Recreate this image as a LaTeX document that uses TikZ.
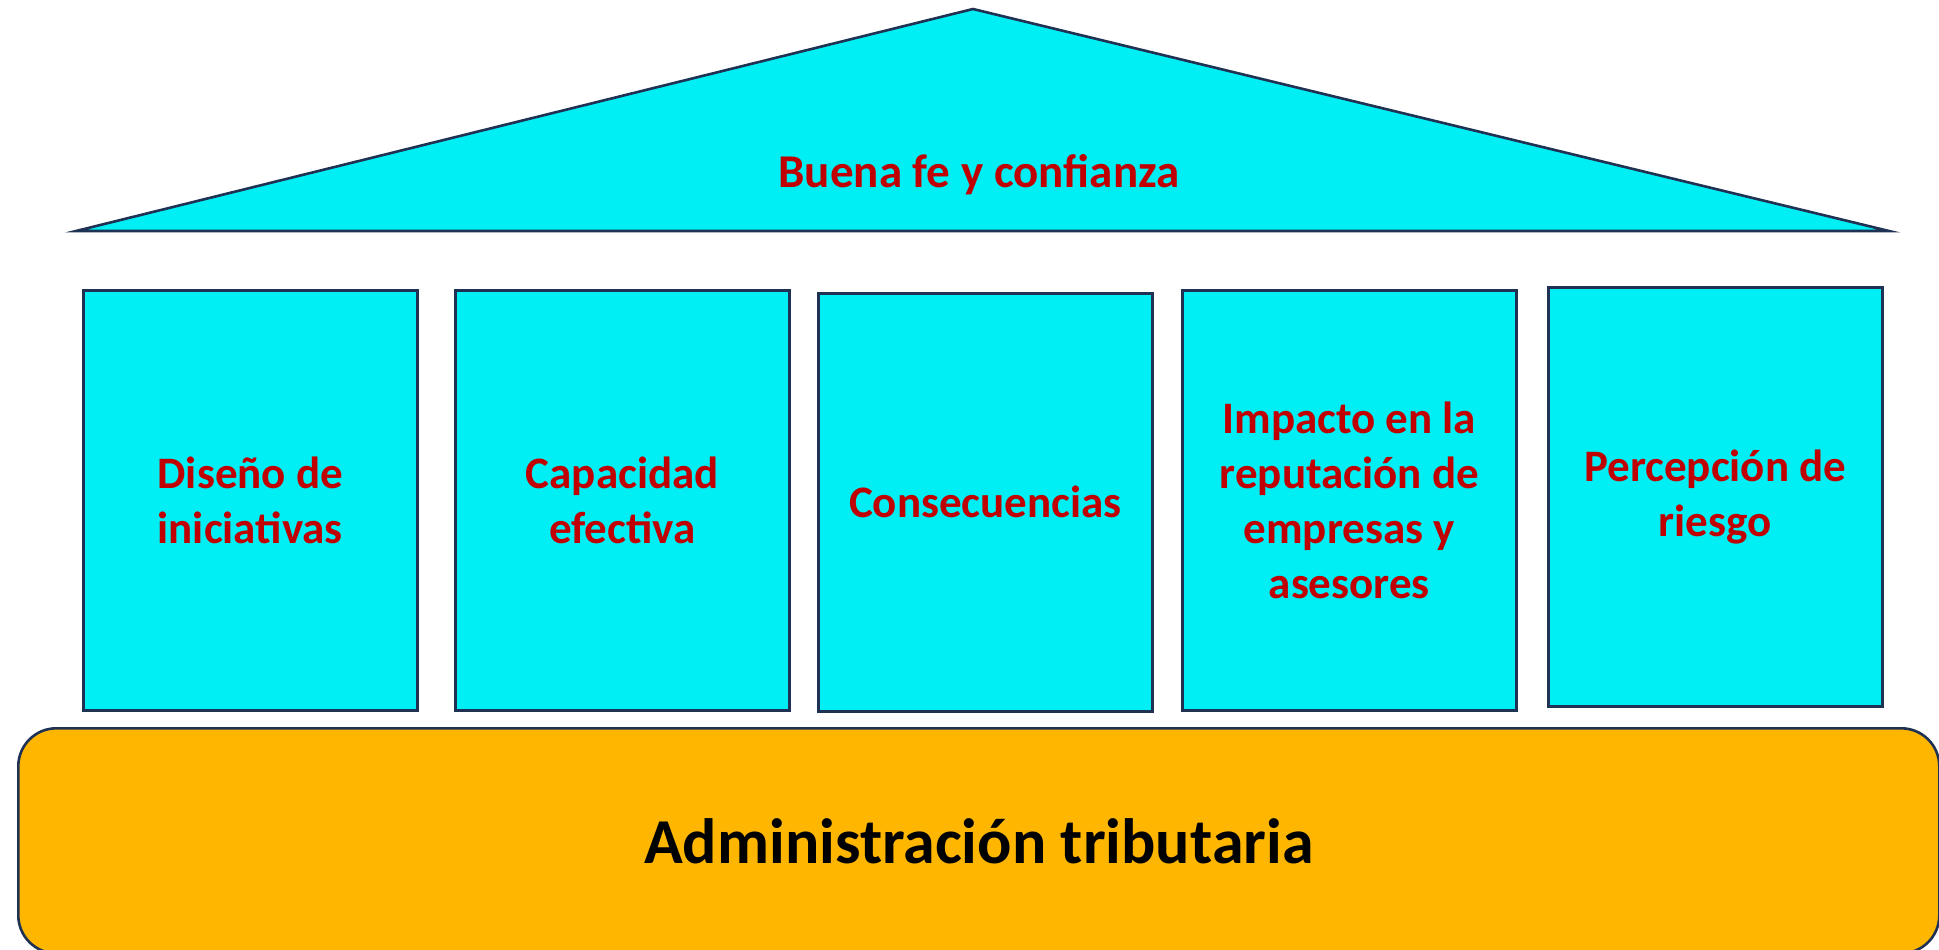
\documentclass[tikz,border=0pt]{standalone}
\usepackage{fontspec}
\setmainfont{Carlito}
\definecolor{roofcyan}{RGB}{0,239,245}
\definecolor{edgeblue}{RGB}{31,50,84}
\definecolor{txtred}{RGB}{192,0,0}
\definecolor{baseorange}{RGB}{255,182,0}
\begin{document}
\begin{tikzpicture}[x=0.5pt,y=-0.5pt,
  pillar/.style={draw=edgeblue, line width=1.3pt, fill=roofcyan, anchor=north west,
    minimum width=167pt, minimum height=210pt, inner sep=0pt, align=center,
    text=txtred, font=\fontsize{22.5}{27.5}\selectfont\bfseries},
  rooftext/.style={text=txtred, font=\fontsize{23.5}{28}\selectfont\bfseries, inner sep=0pt},
  basebox/.style={draw=edgeblue, line width=1.3pt, fill=baseorange, anchor=north west,
    rounded corners=19pt, minimum width=960.5pt, minimum height=112.5pt, inner sep=0pt,
    font=\fontsize{32}{38}\selectfont\bfseries, text=black}]
\useasboundingbox (0,0) rectangle (1939,949);
% roof
\coordinate (rl) at (76,231);
\coordinate (ra) at (973,9);
\coordinate (rr) at (1889,231);
\draw[edgeblue, line width=1.3pt, fill=roofcyan, line join=miter] (rl) -- (ra) -- (rr) -- cycle;
\node[rooftext, anchor=base] (roof) at (979,187) {Buena fe y confianza};
% pillars
\node[pillar] (p1) at (82,289) {Diseño de\\iniciativas};
\node[pillar] (p2) at (454,289) {Capacidad\\efectiva};
\node[pillar, minimum height=209pt] (p3) at (817,292) {Consecuencias};
\node[pillar] (p4) at (1181,289) {Impacto en la\\reputación de\\empresas y\\asesores};
\node[pillar, minimum height=209.5pt] (p5) at (1547,286) {Percepción de\\riesgo};
% base
\node[basebox] (base) at (17,727) {Administración tributaria};
\end{tikzpicture}
\end{document}
